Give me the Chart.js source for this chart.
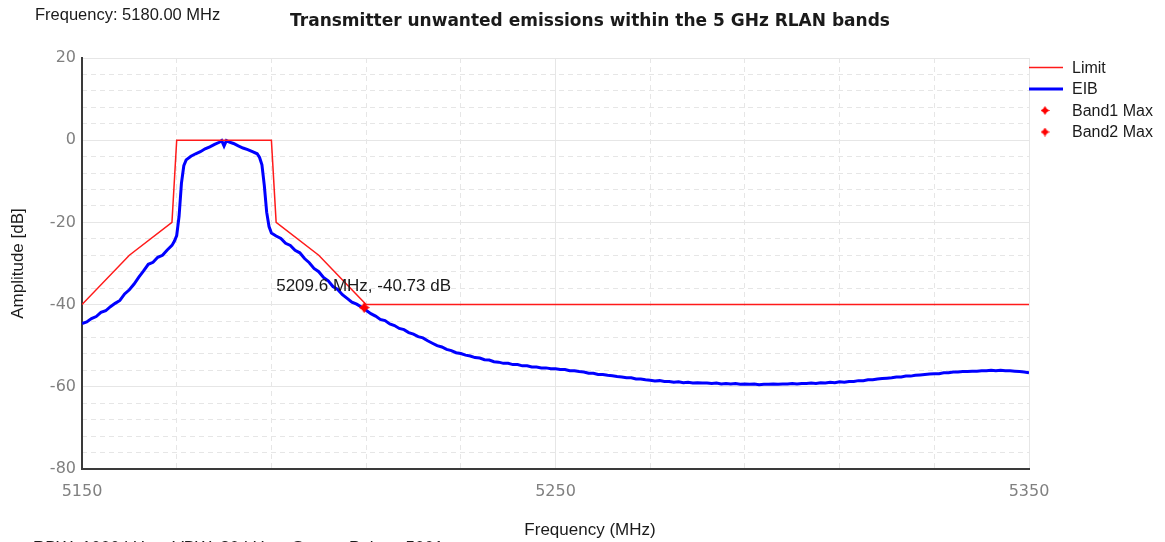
<!DOCTYPE html>
<html>
<head>
<meta charset="utf-8">
<title>Transmitter unwanted emissions</title>
<script src="https://cdn.jsdelivr.net/npm/chart.js@4.4.1/dist/chart.umd.min.js"></script>
<style>
    html, body { margin: 0; padding: 0; background: #fff; }
    #emissionChart { display: block; }
</style>
</head>
<body>
<canvas id="emissionChart" width="1165" height="542"></canvas>
<script>
    // DATA
    const limitFreq = [5150, 5160, 5169, 5170, 5190, 5191, 5200, 5210, 5350];
    const limitLevel = [-40, -28, -20, 0, 0, -20, -28, -40, -40];

    const eibFreq = [
        5150, 5151, 5152, 5153, 5154, 5155, 5156, 5157, 5158, 5159,
        5160, 5161, 5162, 5163, 5164, 5165, 5166, 5167, 5168, 5169,
        5169.5, 5170, 5170.5, 5171, 5171.5, 5172,
        5173, 5174, 5175, 5176, 5177, 5178, 5179, 5179.5, 5180, 5180.5,
        5181, 5182, 5183, 5184, 5185, 5186, 5187, 5187.5, 5188, 5188.5,
        5189, 5189.5, 5190,
        5191, 5192, 5193, 5194, 5195, 5196, 5197, 5198, 5199, 5200,
        5201, 5202, 5203, 5204, 5205, 5206, 5207, 5208, 5209, 5210,
        5211, 5212, 5213, 5214, 5215, 5216, 5217, 5218, 5219, 5220,
        5221, 5222, 5223, 5224, 5225, 5226, 5227, 5228, 5229, 5230,
        5231, 5232, 5233, 5234, 5235, 5236, 5237, 5238, 5239, 5240,
        5241, 5242, 5243, 5244, 5245, 5246, 5247, 5248, 5249, 5250,
        5251, 5252, 5253, 5254, 5255, 5256, 5257, 5258, 5259, 5260,
        5261, 5262, 5263, 5264, 5265, 5266, 5267, 5268, 5269, 5270,
        5271, 5272, 5273, 5274, 5275, 5276, 5277, 5278, 5279, 5280,
        5281, 5282, 5283, 5284, 5285, 5286, 5287, 5288, 5289, 5290,
        5291, 5292, 5293, 5294, 5295, 5296, 5297, 5298, 5299, 5300,
        5301, 5302, 5303, 5304, 5305, 5306, 5307, 5308, 5309, 5310,
        5311, 5312, 5313, 5314, 5315, 5316, 5317, 5318, 5319, 5320,
        5321, 5322, 5323, 5324, 5325, 5326, 5327, 5328, 5329, 5330,
        5331, 5332, 5333, 5334, 5335, 5336, 5337, 5338, 5339, 5340,
        5341, 5342, 5343, 5344, 5345, 5346, 5347, 5348, 5349, 5350
    ];
    const eibLevel = [
        -44.6, -44.2, -43.4, -42.9, -41.9, -41.5, -40.5, -39.7, -39.0, -37.4,
        -36.4, -35.0, -33.3, -31.8, -30.2, -29.7, -28.5, -28.0, -26.7, -25.6,
        -24.6, -23.2, -18.5, -10.5, -6.2, -4.8,
        -3.9, -3.3, -2.8, -2.1, -1.6, -1.0, -0.5, -0.1, -1.4, -0.1,
        -0.4, -0.8, -1.4, -1.9, -2.3, -2.8, -3.3, -4.2, -6.0, -11.0,
        -17.5, -21.0, -22.6,
        -23.3, -23.9, -25.1, -25.6, -26.8, -27.4, -28.8, -29.8, -31.2, -32.0,
        -33.4, -34.2, -35.6, -36.3, -37.6, -38.5, -39.4, -39.9, -40.6, -41.4,
        -42.2, -42.8, -43.6, -43.9, -44.7, -45.1, -45.8, -46.1, -46.8, -47.2,
        -47.8, -48.1, -48.8, -49.4, -50.0, -50.3, -50.9, -51.2, -51.7, -51.9,
        -52.3, -52.5, -52.9, -53.0, -53.4, -53.5, -53.9, -54.0, -54.3, -54.3,
        -54.6, -54.6, -54.9, -54.9, -55.2, -55.2, -55.4, -55.4, -55.6, -55.6,
        -55.8, -55.8, -56.1, -56.1, -56.3, -56.4, -56.7, -56.7, -57.0, -57.0,
        -57.2, -57.3, -57.5, -57.6, -57.8, -57.8, -58.1, -58.1, -58.3, -58.4,
        -58.6, -58.5, -58.7, -58.7, -58.9, -58.8, -59.0, -58.9, -59.1, -59.0,
        -59.1, -59.1, -59.2, -59.1, -59.3, -59.2, -59.3, -59.2, -59.4, -59.3,
        -59.4, -59.3, -59.5, -59.4, -59.4, -59.3, -59.4, -59.3, -59.3, -59.2,
        -59.3, -59.2, -59.2, -59.1, -59.2, -59.0, -59.1, -58.9, -59.0, -58.8,
        -58.9, -58.7, -58.7, -58.5, -58.5, -58.3, -58.3, -58.1, -58.0, -57.9,
        -57.8, -57.6, -57.6, -57.4, -57.4, -57.2, -57.1, -57.0, -56.9, -56.8,
        -56.8, -56.6, -56.6, -56.4, -56.4, -56.3, -56.3, -56.2, -56.2, -56.1,
        -56.1, -56.0, -56.1, -56.0, -56.1, -56.1, -56.2, -56.3, -56.4, -56.6
    ];

    const band1Freq = [5209.6];
    const band1Level = [-40.73];
    const band2Freq = [];
    const band2Level = [];

    const xTicks = [5150, 5250, 5350];
    const xMinorGrid = [5170, 5190, 5210, 5230, 5270, 5290, 5310, 5330];
    const yTicks = [-80, -60, -40, -20, 0, 20];
    const yMinorGrid = [-76, -72, -68, -64, -56, -52, -48, -44, -36, -32, -28, -24,
        -16, -12, -8, -4, 4, 8, 12, 16];

    const frequencyLabel = 'Frequency: 5180.00 MHz';
    const titleText = 'Transmitter unwanted emissions within the 5 GHz RLAN bands';
    const footerText = 'RBW: 1000 kHz    VBW: 30 kHz    Sweep Points: 5001';

    const toPoints = (xs, ys) => xs.map((x, i) => ({ x: x, y: ys[i] }));

    // small red four point star used for the max markers
    function makeStar(size) {
        const c = document.createElement('canvas');
        c.width = size;
        c.height = size;
        const g = c.getContext('2d');
        const m = size / 2;
        const k = size * 0.2;
        g.fillStyle = '#ff0000';
        g.beginPath();
        g.moveTo(m, 0);
        g.lineTo(m + k, m - k);
        g.lineTo(size, m);
        g.lineTo(m + k, m + k);
        g.lineTo(m, size);
        g.lineTo(m - k, m + k);
        g.lineTo(0, m);
        g.lineTo(m - k, m - k);
        g.closePath();
        g.fill();
        return c;
    }
    const starMark = makeStar(11);
    const legendStar = makeStar(9);

    const textFont = '"Liberation Sans", Arial, sans-serif';
    const gridColor = '#e6e6e6';

    // TEXTS AND LEGEND
    const overlayPlugin = {
        id: 'overlay',
        afterDraw(chart) {
            const ctx = chart.ctx;
            const xs = chart.scales.x;
            const ys = chart.scales.y;
            ctx.save();
            ctx.fillStyle = '#1a1a1a';
            ctx.textBaseline = 'middle';

            ctx.font = '16.5px ' + textFont;
            ctx.textAlign = 'left';
            ctx.fillText(frequencyLabel, 35, 15);

            ctx.font = 'bold 17px "DejaVu Sans", sans-serif';
            ctx.textAlign = 'center';
            ctx.fillText(titleText, 590, 22);

            ctx.font = '17px ' + textFont;
            ctx.fillText('Frequency (MHz)', 590, 530);

            ctx.textAlign = 'left';
            ctx.textBaseline = 'top';
            ctx.fillText(footerText, 33, 540);

            // marker label
            ctx.textBaseline = 'middle';
            const px = xs.getPixelForValue(band1Freq[0]);
            const py = ys.getPixelForValue(band1Level[0]);
            ctx.fillText(band1Freq[0].toFixed(1) + ' MHz, ' + band1Level[0].toFixed(2) + ' dB', px - 88, py - 21);

            // legend
            ctx.font = '16px ' + textFont;
            chart.data.datasets.forEach(function (ds, i) {
                const rowY = 67.5 + i * 21.5;
                if (ds.showLine === false) {
                    ctx.drawImage(legendStar, 1045 - 4.5, rowY - 4.5);
                } else {
                    ctx.strokeStyle = ds.borderColor;
                    ctx.lineWidth = ds.borderWidth;
                    ctx.beginPath();
                    ctx.moveTo(1029, rowY);
                    ctx.lineTo(1063, rowY);
                    ctx.stroke();
                }
                ctx.fillStyle = '#1a1a1a';
                ctx.fillText(ds.label, 1072, rowY + 1);
            });
            ctx.restore();
        }
    };

    const ctx = document.getElementById('emissionChart');
    new Chart(ctx, {
        type: 'line',
        data: {
            datasets: [
                {
                    label: 'Limit',
                    data: toPoints(limitFreq, limitLevel),
                    borderColor: '#ff1a1a',
                    borderWidth: 1.5,
                    pointRadius: 0,
                    tension: 0,
                    order: 1
                },
                {
                    label: 'EIB',
                    data: toPoints(eibFreq, eibLevel),
                    borderColor: '#0000ff',
                    borderWidth: 3,
                    pointRadius: 0,
                    tension: 0,
                    order: 2
                },
                {
                    label: 'Band1 Max',
                    data: toPoints(band1Freq, band1Level),
                    showLine: false,
                    pointStyle: starMark,
                    pointRadius: 6,
                    order: 0
                },
                {
                    label: 'Band2 Max',
                    data: toPoints(band2Freq, band2Level),
                    showLine: false,
                    pointStyle: starMark,
                    pointRadius: 6,
                    order: 0
                }
            ]
        },
        options: {
            responsive: false,
            animation: false,
            devicePixelRatio: 1,
            layout: {
                padding: { top: 58, right: 136, bottom: 0, left: 0 }
            },
            plugins: {
                legend: { display: false },
                title: { display: false },
                tooltip: { enabled: false }
            },
            scales: {
                x: {
                    type: 'linear',
                    min: 5150,
                    max: 5350,
                    afterBuildTicks: s => { s.ticks = xTicks.map(v => ({ value: v })); },
                    afterFit: s => { s.height = 73; },
                    ticks: {
                        color: '#808080',
                        font: { family: '"DejaVu Sans", sans-serif', size: 16 },
                        padding: 13,
                        maxRotation: 0,
                        callback: v => String(v)
                    },
                    grid: { color: gridColor, drawTicks: false },
                    border: { display: true, color: '#3a3a3a', width: 2 }
                },
                xMinor: {
                    type: 'linear',
                    position: 'bottom',
                    min: 5150,
                    max: 5350,
                    afterBuildTicks: s => { s.ticks = xMinorGrid.map(v => ({ value: v })); },
                    afterFit: s => { s.height = 0; },
                    ticks: { display: false },
                    grid: { color: gridColor, drawTicks: false },
                    border: { display: false, dash: [5, 4] }
                },
                y: {
                    min: -80,
                    max: 20,
                    afterBuildTicks: s => { s.ticks = yTicks.map(v => ({ value: v })); },
                    afterFit: s => { s.width = 82; },
                    ticks: {
                        color: '#808080',
                        font: { family: '"DejaVu Sans", sans-serif', size: 16 },
                        padding: 6
                    },
                    grid: { color: gridColor, drawTicks: false },
                    border: { display: true, color: '#3a3a3a', width: 2 },
                    title: {
                        display: true,
                        text: 'Amplitude [dB]',
                        color: '#1a1a1a',
                        font: { family: textFont, size: 17 },
                        padding: { top: 8, bottom: 0 }
                    }
                },
                yMinor: {
                    position: 'left',
                    min: -80,
                    max: 20,
                    afterBuildTicks: s => { s.ticks = yMinorGrid.map(v => ({ value: v })); },
                    afterFit: s => { s.width = 0; },
                    ticks: { display: false },
                    grid: { color: gridColor, drawTicks: false },
                    border: { display: false, dash: [5, 4] }
                }
            }
        },
        plugins: [overlayPlugin]
    });
</script>
</body>
</html>
